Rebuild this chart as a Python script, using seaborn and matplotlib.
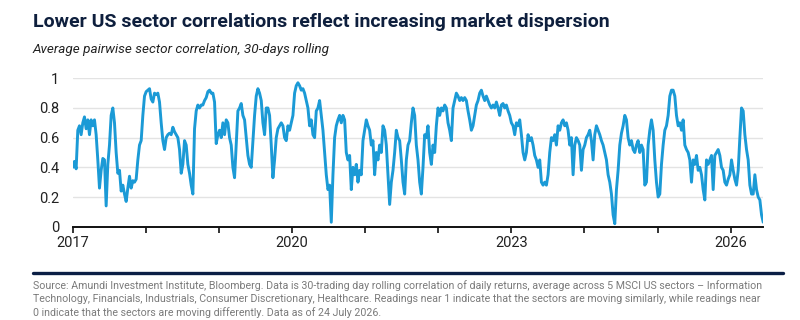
import pandas as pd
import numpy as np
import seaborn as sns
import matplotlib.pyplot as plt
from matplotlib import font_manager

# Correlação média entre pares de setores (um ponto a cada ~8 dias)
corr_2017_2018 = [
    0.40, 0.44, 0.39, 0.65, 0.68, 0.62, 0.70, 0.74, 0.66, 0.72,
    0.62, 0.72, 0.68, 0.72, 0.62, 0.45, 0.26, 0.38, 0.46, 0.45,
    0.14, 0.42, 0.55, 0.75, 0.80, 0.70, 0.50, 0.36, 0.38, 0.24,
    0.28, 0.22, 0.17, 0.26, 0.34, 0.26, 0.31, 0.30, 0.32, 0.45,
    0.55, 0.58, 0.75, 0.88, 0.91, 0.92, 0.93, 0.86, 0.84, 0.90,
    0.89, 0.90, 0.84, 0.70, 0.58, 0.52, 0.60, 0.62, 0.63, 0.62,
    0.67, 0.64, 0.62, 0.60, 0.52, 0.36, 0.42, 0.58, 0.55, 0.42,
    0.36, 0.28, 0.22, 0.66, 0.78, 0.82, 0.80, 0.82, 0.82, 0.85,
    0.87, 0.91, 0.92, 0.90, 0.90, 0.84, 0.56, 0.62,
]
corr_2019_2021 = [
    0.65, 0.60, 0.70, 0.62, 0.72, 0.70, 0.60, 0.55, 0.40, 0.33,
    0.55, 0.78, 0.80, 0.83, 0.75, 0.72, 0.60, 0.48, 0.42, 0.40,
    0.58, 0.75, 0.88, 0.93, 0.90, 0.85, 0.70, 0.62, 0.80, 0.80,
    0.75, 0.55, 0.33, 0.45, 0.60, 0.66, 0.68, 0.70, 0.68, 0.60,
    0.58, 0.68, 0.65, 0.70, 0.75, 0.90, 0.95, 0.97, 0.95, 0.92,
    0.93, 0.90, 0.85, 0.80, 0.68, 0.72, 0.62, 0.60, 0.78, 0.80,
    0.85, 0.75, 0.65, 0.50, 0.35, 0.25, 0.28, 0.03, 0.35, 0.60,
    0.68, 0.72, 0.75, 0.70, 0.75, 0.72, 0.50, 0.45, 0.48, 0.25,
    0.40, 0.35, 0.42, 0.30, 0.38, 0.35, 0.58, 0.65, 0.72, 0.68,
    0.65, 0.55, 0.58, 0.35, 0.50, 0.45, 0.55, 0.50, 0.68, 0.65,
    0.55, 0.35, 0.15, 0.30, 0.38, 0.50, 0.65, 0.60, 0.58, 0.45,
    0.30, 0.22, 0.45, 0.55,
]
corr_2021_2024 = [
    0.58, 0.70, 0.80, 0.75, 0.55, 0.45, 0.30, 0.22, 0.40, 0.62,
    0.60, 0.68, 0.50, 0.42, 0.55, 0.50, 0.68, 0.80, 0.75, 0.80,
    0.78, 0.82, 0.80, 0.70, 0.65, 0.58, 0.80, 0.85, 0.90, 0.88,
    0.85, 0.87, 0.85, 0.87, 0.85, 0.78, 0.72, 0.65, 0.68, 0.75,
    0.82, 0.85, 0.90, 0.92, 0.88, 0.85, 0.88, 0.85, 0.82, 0.80,
    0.82, 0.80, 0.84, 0.80, 0.75, 0.82, 0.83, 0.80, 0.82, 0.78,
    0.75, 0.70, 0.68, 0.62, 0.70, 0.68, 0.72, 0.62, 0.50, 0.45,
    0.50, 0.62, 0.58, 0.60, 0.55, 0.48, 0.45, 0.40, 0.45, 0.30,
    0.28, 0.30, 0.28, 0.35, 0.50, 0.60, 0.58, 0.62, 0.55, 0.68,
    0.65, 0.70, 0.72, 0.68, 0.70, 0.65, 0.55, 0.60, 0.35, 0.55,
    0.60, 0.58, 0.55, 0.38, 0.52, 0.55, 0.60, 0.62, 0.65, 0.58,
    0.45, 0.62, 0.68, 0.65,
]
corr_2024_2026 = [
    0.62, 0.58, 0.55, 0.50, 0.45, 0.35, 0.30, 0.22, 0.08, 0.02,
    0.25, 0.38, 0.55, 0.63, 0.68, 0.75, 0.72, 0.60, 0.55, 0.58,
    0.52, 0.50, 0.55, 0.58, 0.50, 0.55, 0.52, 0.28, 0.30, 0.55,
    0.65, 0.72, 0.65, 0.45, 0.30, 0.20, 0.22, 0.42, 0.55, 0.65,
    0.68, 0.75, 0.88, 0.92, 0.92, 0.88, 0.75, 0.68, 0.70, 0.65,
    0.72, 0.55, 0.52, 0.50, 0.45, 0.30, 0.45, 0.42, 0.48, 0.38,
    0.40, 0.35, 0.25, 0.18, 0.45, 0.42, 0.45, 0.48, 0.25, 0.48,
    0.50, 0.52, 0.48, 0.40, 0.38, 0.30, 0.28, 0.32, 0.35, 0.45,
    0.38, 0.32, 0.28, 0.38, 0.60, 0.80, 0.78, 0.62, 0.52, 0.45,
    0.28, 0.22, 0.22, 0.35, 0.25, 0.20, 0.18, 0.08, 0.03,
]
correlation = corr_2017_2018 + corr_2019_2021 + corr_2021_2024 + corr_2024_2026
dates = pd.date_range("2017-01-01", periods=len(correlation), freq="200h")
df = pd.DataFrame({"date": dates, "corr": correlation})

years = list(range(2017, 2027))
year_labels = [str(y) if y in (2017, 2020, 2023, 2026) else "" for y in years]

title = "Lower US sector correlations reflect increasing market dispersion"
subtitle = "Average pairwise sector correlation, 30-days rolling"
source = ("Source: Amundi Investment Institute, Bloomberg. Data is 30-trading day rolling correlation of daily returns, "
          "average across 5 MSCI US sectors \u2013 Information\n"
          "Technology, Financials, Industrials, Consumer Discretionary, Healthcare. Readings near 1 indicate that the "
          "sectors are moving similarly, while readings near\n"
          "0 indicate that the sectors are moving differently. Data as of 24 July 2026.")

sns.set_theme(style="white")
installed = {f.name for f in font_manager.fontManager.ttflist}
narrow = "Liberation Sans Narrow" if "Liberation Sans Narrow" in installed else "Roboto"
plt.rcParams["font.family"] = [narrow, "DejaVu Sans"]

fig = plt.figure(figsize=(8, 3.2), dpi=100)
ax = fig.add_axes([0.091, 0.2916, 0.863, 0.4637])
sns.lineplot(data=df, x="date", y="corr", color="#1b9ad6", linewidth=2.1, ax=ax)

ax.set_ylim(0, 1)
ax.set_xlim(dates[0], dates[-1])
ax.set_yticks([0, 0.2, 0.4, 0.6, 0.8, 1.0])
ax.set_yticklabels(["0", "0.2", "0.4", "0.6", "0.8", "1"])
ax.set_xticks([pd.Timestamp(f"{y}-01-01") for y in years])
ax.set_xticklabels(year_labels)
ax.set_xlabel("")
ax.set_ylabel("")
ax.grid(axis="y", color="#e3e3e3", linewidth=1)
for s in ["top", "right", "left"]:
    ax.spines[s].set_visible(False)
ax.spines["bottom"].set_color("#111111")
ax.spines["bottom"].set_linewidth(1.4)
ax.tick_params(axis="x", length=4, width=1.2, color="#111111", labelsize=10.5, labelcolor="#222222", pad=3, bottom=True)
ax.tick_params(axis="y", length=0, labelsize=10.5, labelcolor="#222222", pad=10)

fig.text(0.041, 0.9167, title, fontsize=14, fontweight="bold", color="#0e1f3d", va="baseline")
fig.text(0.041, 0.835, subtitle, fontsize=9.7, style="italic", color="#222222", va="baseline")
fig.add_artist(plt.Line2D([0.041, 0.979], [0.1484, 0.1484], color="#0b1f45", linewidth=2.4))
fig.text(0.041, 0.125, source, fontsize=7.7, color="#7a7a7a", va="top", linespacing=1.35)

plt.savefig("out.png", dpi=100)
